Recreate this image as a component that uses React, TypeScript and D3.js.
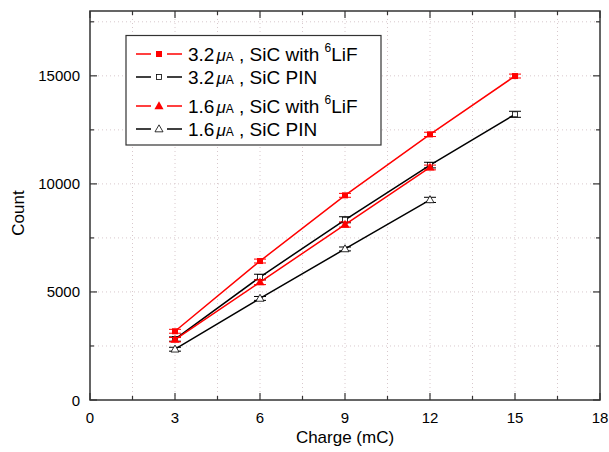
import React from "react";
import * as d3 from "d3";

const charges = [3, 6, 9, 12, 15];
const s1Values = [3180, 6430, 9470, 12290, 14990]; // 3.2uA SiC with 6LiF
const s1Err = [90, 90, 90, 100, 90];
const s2Values = [2820, 5690, 8340, 10870, 13220]; // 3.2uA SiC PIN
const s2Err = [100, 130, 140, 130, 140];
const s3Charges = [3, 6, 9, 12];
const s3Values = [2790, 5450, 8120, 10760]; // 1.6uA SiC with 6LiF
const s3Err = [100, 110, 120, 110];
const s4Values = [2350, 4700, 6990, 9260]; // 1.6uA SiC PIN
const s4Err = [90, 90, 90, 120];

const xTicks = [0, 3, 6, 9, 12, 15, 18];
const xMinor = [1.5, 4.5, 7.5, 10.5, 13.5, 16.5];
const yTicks = [0, 5000, 10000, 15000];
const yMinor = [2500, 7500, 12500, 17500];

const W = 609, H = 452;
const L = 90, R = 600, T = 11, B = 400;

type Series = { xs: number[]; ys: number[]; err: number[]; color: string; marker: string; filled: boolean };

export default function App() {
  const x = d3.scaleLinear().domain([0, 18]).range([L, R]);
  const y = d3.scaleLinear().domain([0, 18000]).range([B, T]);
  const line = d3.line<[number, number]>().x((d) => x(d[0])).y((d) => y(d[1]));

  const series: Series[] = [
    { xs: charges, ys: s2Values, err: s2Err, color: "#000", marker: "square", filled: false },
    { xs: s3Charges, ys: s4Values, err: s4Err, color: "#000", marker: "triangle", filled: false },
    { xs: s3Charges, ys: s3Values, err: s3Err, color: "#ff0000", marker: "triangle", filled: true },
    { xs: charges, ys: s1Values, err: s1Err, color: "#ff0000", marker: "square", filled: true },
  ];

  const marker = (m: string, filled: boolean, color: string, cx: number, cy: number, key: string) => {
    const fill = filled ? color : "#fff";
    if (m === "square") {
      const s = filled ? 6 : 5;
      return <rect key={key} x={cx - s / 2} y={cy - s / 2} width={s} height={s} fill={fill} stroke={filled ? "none" : color} strokeWidth={0.8} />;
    }
    const p = d3.symbol(d3.symbolTriangle, filled ? 36 : 28)();
    return <path key={key} d={p || ""} transform={`translate(${cx},${cy + 0.5})`} fill={fill} stroke={filled ? "none" : color} strokeWidth={0.8} />;
  };

  const legendItems = [
    { label: "3.2", rest: "SiC with ", lif: true, color: "#ff0000", marker: "square", filled: true },
    { label: "3.2", rest: "SiC PIN", lif: false, color: "#000", marker: "square", filled: false },
    { label: "1.6", rest: "SiC with ", lif: true, color: "#ff0000", marker: "triangle", filled: true },
    { label: "1.6", rest: "SiC PIN", lif: false, color: "#000", marker: "triangle", filled: false },
  ];
  const legendY = [54, 77, 106, 129];

  const axisColor = "#333";
  const font = "Liberation Sans, Arial, sans-serif";

  return (
    <svg width={W} height={H} style={{ position: "absolute", left: 0, top: 0 }} fontFamily={font}>
      <rect width={W} height={H} fill="#fff" />
      {/* grid */}
      {[...xTicks.slice(1, -1), ...xMinor].map((v) => (
        <line key={"gx" + v} x1={x(v)} x2={x(v)} y1={T} y2={B} stroke="#d8c8cc" strokeWidth={1} strokeDasharray="1,3" />
      ))}
      {[...yTicks.slice(1), ...yMinor].map((v) => (
        <line key={"gy" + v} x1={L} x2={R} y1={y(v)} y2={y(v)} stroke="#d8c8cc" strokeWidth={1} strokeDasharray="1,3" />
      ))}
      {/* series */}
      {series.map((s, i) => {
        const pts: [number, number][] = s.xs.map((v, j) => [v, s.ys[j]]);
        return (
          <g key={"s" + i}>
            <path d={line(pts) || ""} fill="none" stroke={s.color} strokeWidth={1.5} />
            {pts.map((p, j) => {
              const cx = x(p[0]);
              const y1 = y(p[1] + s.err[j]);
              const y2 = y(p[1] - s.err[j]);
              return (
                <g key={j} stroke={s.color} strokeWidth={1}>
                  <line x1={cx} x2={cx} y1={y1} y2={y2} />
                  <line x1={cx - 6} x2={cx + 6} y1={y1} y2={y1} />
                  <line x1={cx - 6} x2={cx + 6} y1={y2} y2={y2} />
                </g>
              );
            })}
            {pts.map((p, j) => marker(s.marker, s.filled, s.color, x(p[0]), y(p[1]), "m" + j))}
          </g>
        );
      })}
      {/* frame */}
      <rect x={L} y={T} width={R - L} height={B - T} fill="none" stroke={axisColor} strokeWidth={1.5} />
      {/* ticks */}
      {xTicks.map((v) => (
        <g key={"xt" + v} stroke={axisColor} strokeWidth={1.2}>
          <line x1={x(v)} x2={x(v)} y1={B} y2={B - 7} />
          <line x1={x(v)} x2={x(v)} y1={T} y2={T + 7} />
        </g>
      ))}
      {xMinor.map((v) => (
        <g key={"xm" + v} stroke={axisColor} strokeWidth={1.2}>
          <line x1={x(v)} x2={x(v)} y1={B} y2={B - 4} />
          <line x1={x(v)} x2={x(v)} y1={T} y2={T + 4} />
        </g>
      ))}
      {yTicks.map((v) => (
        <g key={"yt" + v} stroke={axisColor} strokeWidth={1.2}>
          <line x1={L} x2={L + 7} y1={y(v)} y2={y(v)} />
          <line x1={R} x2={R - 7} y1={y(v)} y2={y(v)} />
        </g>
      ))}
      {yMinor.map((v) => (
        <g key={"ym" + v} stroke={axisColor} strokeWidth={1.2}>
          <line x1={L} x2={L + 4} y1={y(v)} y2={y(v)} />
          <line x1={R} x2={R - 4} y1={y(v)} y2={y(v)} />
        </g>
      ))}
      {/* tick labels */}
      {xTicks.map((v) => (
        <text key={"xl" + v} x={x(v)} y={B + 23} textAnchor="middle" fontSize={15} fill="#000">{v}</text>
      ))}
      {yTicks.map((v) => (
        <text key={"yl" + v} x={L - 10} y={y(v) + 5.5} textAnchor="end" fontSize={15} fill="#000">{v}</text>
      ))}
      {/* axis titles */}
      <text x={(L + R) / 2} y={443} textAnchor="middle" fontSize={17} fill="#000">Charge (mC)</text>
      <text transform={`translate(24,213) rotate(-90)`} textAnchor="middle" fontSize={17} fill="#000">Count</text>
      {/* legend */}
      <rect x={126} y={35.5} width={255} height={109.5} fill="#fff" stroke={axisColor} strokeWidth={1.2} />
      {legendItems.map((it, i) => {
        const ly = legendY[i];
        return (
          <g key={"lg" + i}>
            <line x1={136} x2={151} y1={ly} y2={ly} stroke={it.color} strokeWidth={1.5} />
            <line x1={167} x2={182} y1={ly} y2={ly} stroke={it.color} strokeWidth={1.5} />
            {marker(it.marker, it.filled, it.color, 159, ly, "lm" + i)}
            <text x={188} y={ly + 7} fontSize={19} fill="#000">
              {it.label}
              <tspan fontStyle="italic" fontSize={17} dx={2}>μ</tspan>
              <tspan fontSize={12}>A</tspan>
              <tspan fontSize={19}>{" , " + it.rest}</tspan>
              {it.lif ? <tspan fontSize={12} dy={-9}>6</tspan> : null}
              {it.lif ? <tspan fontSize={19} dy={9}>LiF</tspan> : null}
            </text>
          </g>
        );
      })}
    </svg>
  );
}
